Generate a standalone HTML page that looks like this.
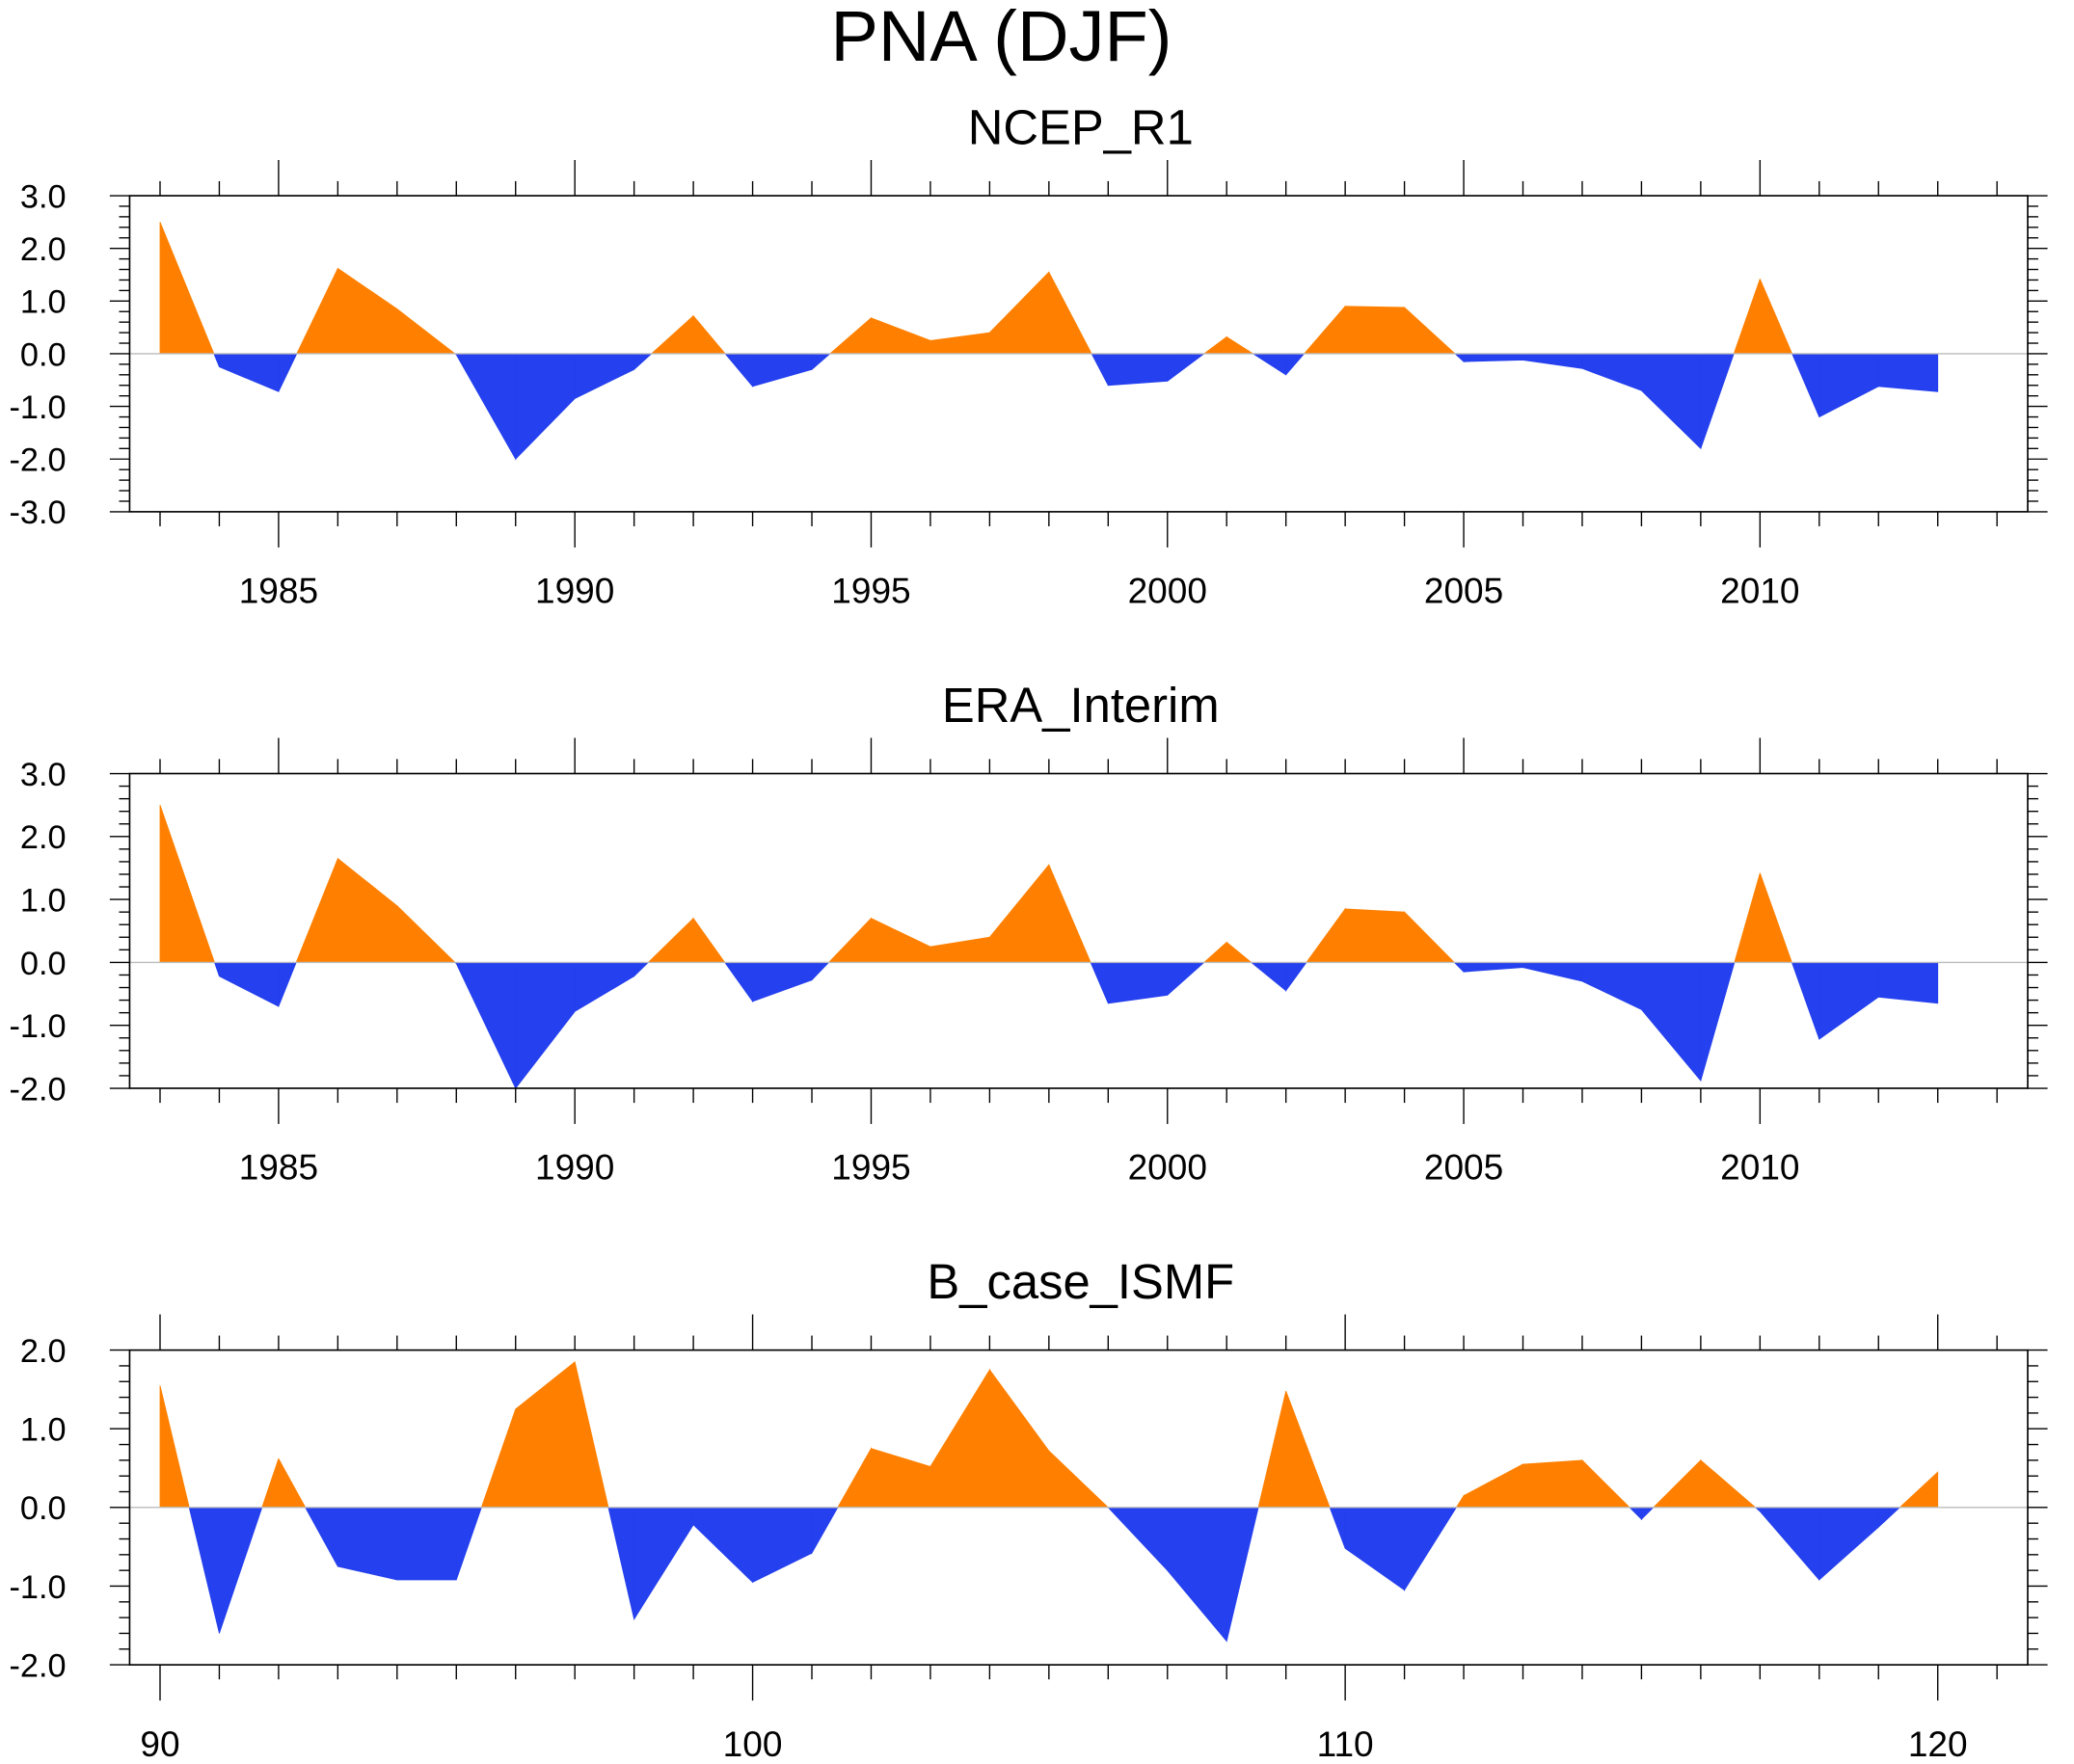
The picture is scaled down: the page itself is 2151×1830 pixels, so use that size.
<!DOCTYPE html>
<html><head><meta charset="utf-8"><style>
html,body{margin:0;padding:0;background:#fff;}
svg{display:block;}
text{font-family:"Liberation Sans",sans-serif;fill:#000;}
</style></head><body>
<svg id="chart" width="2151" height="1830" viewBox="0 0 1568 1334" xmlns="http://www.w3.org/2000/svg">
<text x="757" y="46" font-size="54" text-anchor="middle">PNA (DJF)</text>
</svg>
<script>
const ncepYears = [1983,1984,1985,1986,1987,1988,1989,1990,1991,1992,1993,1994,1995,1996,1997,1998,1999,2000,2001,2002,2003,2004,2005,2006,2007,2008,2009,2010,2011,2012,2013];
const ncepValues = [2.5,-0.25,-0.72,1.62,0.85,-0.02,-2.0,-0.85,-0.3,0.72,-0.62,-0.3,0.68,0.25,0.4,1.55,-0.6,-0.52,0.32,-0.4,0.9,0.88,-0.15,-0.12,-0.28,-0.7,-1.8,1.42,-1.2,-0.62,-0.72];
const eraValues = [2.5,-0.22,-0.7,1.65,0.9,-0.02,-2.0,-0.78,-0.22,0.7,-0.62,-0.28,0.7,0.25,0.4,1.55,-0.65,-0.52,0.32,-0.45,0.85,0.8,-0.15,-0.08,-0.3,-0.75,-1.88,1.42,-1.22,-0.55,-0.65];
const modelYears = [90,91,92,93,94,95,96,97,98,99,100,101,102,103,104,105,106,107,108,109,110,111,112,113,114,115,116,117,118,119,120];
const modelValues = [1.55,-1.6,0.62,-0.75,-0.92,-0.92,1.25,1.85,-1.42,-0.22,-0.95,-0.58,0.75,0.52,1.75,0.72,0.0,-0.8,-1.7,1.48,-0.52,-1.05,0.15,0.55,0.6,-0.15,0.6,-0.05,-0.92,-0.25,0.45];
const yearTickLabels = [1985,1990,1995,2000,2005,2010];
const modelTickLabels = [90,100,110,120];
const ncepYTicks = [3,2,1,0,-1,-2,-3];
const eraYTicks = [3,2,1,0,-1,-2];
const modelYTicks = [2,1,0,-1,-2];

const NS="http://www.w3.org/2000/svg";
const svg=document.getElementById('chart');
function mk(tag,attrs,parent){const e=document.createElementNS(NS,tag);for(const k in attrs)e.setAttribute(k,attrs[k]);(parent||svg).appendChild(e);return e;}

function panel(cfg){
  const g=mk('g',{});
  
  
  const L=98,R=1533,T=cfg.top,B=cfg.bottom;
  const yMax=cfg.yTicks[0],yMin=cfg.yTicks[cfg.yTicks.length-1];
  const sx=v=>121+(v-cfg.x0)*44.8/cfg.step;
  const sy=v=>T+(yMax-v)/(yMax-yMin)*(B-T);
  const t=mk('text',{x:817,y:T-39,'font-size':37,'text-anchor':'middle'},g);
  t.textContent=cfg.title;
  
  
  const xs=cfg.x, ys=cfg.y, z=sy(0);
  let pos='',neg='';
  for(let i=0;i<xs.length-1;i++){
    const x1=sx(xs[i]),x2=sx(xs[i+1]),v1=ys[i],v2=ys[i+1];
    const seg=(a,b,va,vb,sign)=>{const c=Math.max(0,sign*va),d=Math.max(0,sign*vb);return `M${a},${z}L${a},${sy(sign*c)}L${b},${sy(sign*d)}L${b},${z}Z`;};
    if(v1*v2<0){
      const xc=x1+(x2-x1)*v1/(v1-v2);
      if(v1>0){pos+=seg(x1,xc,v1,0,1);neg+=seg(xc,x2,0,v2,-1);}
      else{neg+=seg(x1,xc,v1,0,-1);pos+=seg(xc,x2,0,v2,1);}
    }else{
      if(v1>=0&&v2>=0)pos+=seg(x1,x2,v1,v2,1);
      if(v1<=0&&v2<=0)neg+=seg(x1,x2,v1,v2,-1);
    }
  }
  const p=mk('path',{d:pos,fill:'#ff8000',stroke:'#ff8000','stroke-width':0.6},g);
  
  
  const n=mk('path',{d:neg,fill:'#2540ee',stroke:'#2540ee','stroke-width':0.6},g);
  
  
  mk('line',{x1:L,x2:R,y1:z,y2:z,stroke:'#bbb','stroke-width':1},g);
  const box=mk('rect',{x:L,y:T,width:R-L,height:B-T,fill:'none',stroke:'#000','stroke-width':1.2},g);
  
  
  for(let v=cfg.x0;sx(v)<=R-10;v+=cfg.step){
    const X=sx(v);const major=(v%cfg.major===0);
    const len=major?27:11;
    mk('line',{x1:X,x2:X,y1:T,y2:T-len,stroke:'#000','stroke-width':1},g);
    mk('line',{x1:X,x2:X,y1:B,y2:B+len,stroke:'#000','stroke-width':1},g);
  }
  cfg.xLabels.forEach(v=>{
    const l=mk('text',{x:sx(v),y:B+69,'font-size':27,'text-anchor':'middle'},g);
    l.textContent=v;
    
    
  });
  for(let k=Math.round(yMin*5);k<=Math.round(yMax*5);k++){
    const v=k/5,Y=sy(v),major=(k%5===0),len=major?15:8;
    mk('line',{x1:L,x2:L-len,y1:Y,y2:Y,stroke:'#000','stroke-width':1},g);
    mk('line',{x1:R,x2:R+len,y1:Y,y2:Y,stroke:'#000','stroke-width':1},g);
  }
  cfg.yTicks.forEach(v=>{
    const l=mk('text',{x:50,y:sy(v)+9,'font-size':25,'text-anchor':'end'},g);
    l.textContent=v.toFixed(1);
    
    
  });
}
panel({name:'ncep-r1',title:'NCEP_R1',top:148,bottom:387,x:ncepYears,y:ncepValues,x0:1983,step:1,major:5,xLabels:yearTickLabels,yTicks:ncepYTicks});
panel({name:'era-interim',title:'ERA_Interim',top:585,bottom:823,x:ncepYears,y:eraValues,x0:1983,step:1,major:5,xLabels:yearTickLabels,yTicks:eraYTicks});
panel({name:'b-case-ismf',title:'B_case_ISMF',top:1021,bottom:1259,x:modelYears,y:modelValues,x0:90,step:1,major:10,xLabels:modelTickLabels,yTicks:modelYTicks});
</script>
</body></html>
